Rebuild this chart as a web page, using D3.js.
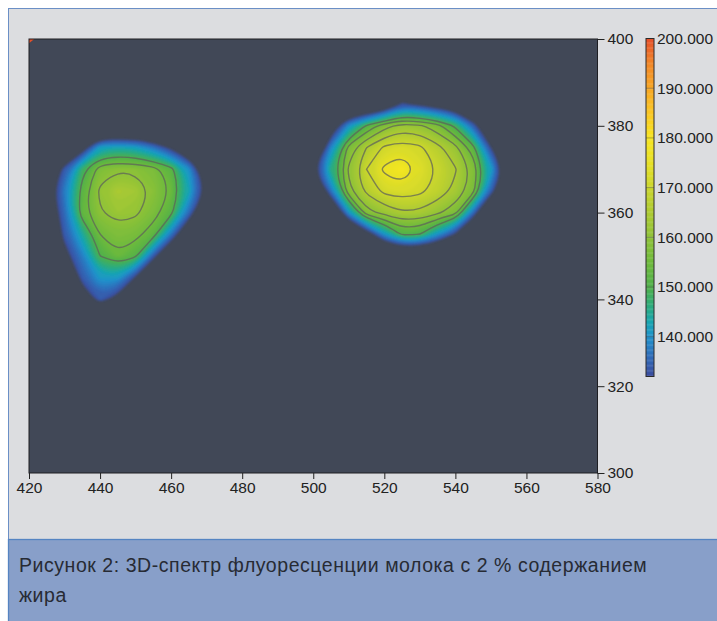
<!DOCTYPE html>
<html>
<head>
  <meta charset="utf-8">
  <script src="https://d3js.org/d3.v7.min.js"></script>
  <style>
    body { margin: 0; background: #fff; }
    #chart { width: 717px; height: 621px; }
    .axis text { font-family: "Liberation Sans", Arial, sans-serif; font-size: 15.5px; fill: #222; }
    .axis line { stroke: #222; }
    .axis path { display: none; }
    .caption { font-family: "Liberation Sans", Arial, sans-serif; font-size: 19.5px; letter-spacing: 0.55px; fill: #272b34; }
  </style>
</head>
<body>
  <div id="chart"></div>
  <script>
    /*
    DATA: fluorescence intensity,
    emission (x, nm) by excitation (y, nm), 5 nm grid, rows from top (390) down.
    Values under 132 are not painted (background).
    */
    const emGrid = [420,425,430,435,440,445,450,455,460,465,470,475,480,485,490,495,500,505,510,515,520,525,530,535,540,545,550,555,560];
    const exGrid = [390,385,380,375,370,365,360,355,350,345,340,335];

    const intensity = [
      // 390
      [115,115,115,115,115,115,115,115,115,115,115,115,115,115,115,115,115,115,115,115,115,115,115,115,115,115,115,115,115],
      // 385
      [115,115,115,115,115,115,115,115,115,115,115,115,115,115,115,115,115,115,115,115,120,133,130,126,123,115,115,115,115],
      // 380
      [115,112,112,113,114,114,114,112,112,115,115,115,115,115,115,115,115,125,140,151,158,162,161,157,149,135,122,115,115],
      // 375
      [115,115,120,127,142,143,142,137,130,122,115,115,115,115,115,115,116,139,157,165,171,172.5,171,166.5,161.5,152,132,115,115],
      // 370
      [115,122,134,148,157.5,159.5,159,157,152,140,124,115,115,115,115,118,131,146,160.8,170,176,179,173.3,169.8,165.4,158.6,142,126,115],
      // 365
      [115,127,138,152,161,164.5,163,159,154.5,143,130,115,115,115,115,115,117,137,158.7,166.2,171.5,172.5,171.3,167.9,163.7,156.9,135,118,115],
      // 360
      [115,124,136,153,159.5,162,161,157,151.5,136,120,115,115,115,115,115,115,118,140,158.2,161.7,164.5,164,161,157,136,116,115,115],
      // 355
      [115,119,134,144,155,157.5,156.5,152.5,137,122,115,115,115,115,115,115,115,115,115,126,140,151,150,140,131,118,115,115,115],
      // 350
      [115,118,129,138,150,154.5,151,134,120,115,115,115,115,115,115,115,115,115,115,115,115,115,115,115,115,115,115,115,115],
      // 345
      [115,115,121,134,141,141,131,118,115,115,115,115,115,115,115,115,115,115,115,115,115,115,115,115,115,115,115,115,115],
      // 340
      [115,115,118,127,134,129,115,115,115,115,115,115,115,115,115,115,115,115,115,115,115,115,115,115,115,115,115,115,115],
      // 335
      [115,115,115,115,115,115,115,115,115,115,115,115,115,115,115,115,115,115,115,115,115,115,115,115,115,115,115,115,115]
    ];

    // small spike in the top-left corner of the map
    const cornerEm = [420, 421.5, 420];
    const cornerEx = [400, 400, 399];
    const cornerValue = 200;

    const xTicks = [420,440,460,480,500,520,540,560,580];
    const yTicks = [300,320,340,360,380,400];
    const lineLevels = [150,155,160,165,170,175];

    // colour bar
    const cbTicks = [140,150,160,170,180,190,200];
    const cbValues = [132,136,140,143,146,150,155,160,165,170,175,180,185,190,195,200];
    const cbColors = ["#3b4a9c","#2f6ab8","#1f92cc","#17a5b0","#2aab80","#4fb04a","#6fba3c","#8fc238","#aecb32","#cbd62c","#e8e126","#f8e620","#fbc722","#f8a724","#f28626","#e6502a"];

    const captionLines = [
      "Рисунок 2: 3D-спектр флуоресценции молока с 2 % содержанием",
      "жира"
    ];

    /*
    SVG
    */
    const width = 717, height = 621;
    const plot = {left: 29, right: 597.5, top: 39, bottom: 473};
    const svg = d3.select("#chart").append("svg")
      .attr("width", width)
      .attr("height", height);

    const defs = svg.append("defs");
    defs.append("filter").attr("id", "soft")
      .attr("x", "-10%").attr("y", "-10%").attr("width", "120%").attr("height", "120%")
      .append("feGaussianBlur").attr("stdDeviation", 1);

    // panel + caption box
    svg.append("rect")
      .attr("x", 8.5).attr("y", 8.5)
      .attr("width", width).attr("height", height)
      .attr("fill", "#dcdde0")
      .attr("stroke", "#6b8fc6");

    svg.append("rect")
      .attr("x", 8.5).attr("y", 539.5)
      .attr("width", width).attr("height", height)
      .attr("fill", "#889fc9")
      .attr("stroke", "#5584c2")
      .attr("stroke-width", 1.3);

    /*
    SCALES
    */
    const x = d3.scaleLinear().domain([420, 580]).range([plot.left, plot.right]);
    const y = d3.scaleLinear().domain([300, 400]).range([plot.bottom, plot.top]);
    const color = d3.scaleLinear().domain(cbValues).range(cbColors).clamp(true);

    const nx = emGrid.length, ny = exGrid.length;
    // d3.contours puts sample i at grid coordinate i + 0.5
    const gx = d3.scaleLinear().domain([0.5, nx - 0.5]).range([emGrid[0], emGrid[nx - 1]]);
    const gy = d3.scaleLinear().domain([0.5, ny - 0.5]).range([exGrid[0], exGrid[ny - 1]]);

    defs.append("clipPath").attr("id", "plotClip")
      .append("rect")
      .attr("x", plot.left).attr("y", plot.top)
      .attr("width", plot.right - plot.left).attr("height", plot.bottom - plot.top);

    const map = svg.append("g").attr("clip-path", "url(#plotClip)");

    map.append("rect")
      .attr("x", plot.left).attr("y", plot.top)
      .attr("width", plot.right - plot.left).attr("height", plot.bottom - plot.top)
      .attr("fill", "#414857");

    /*
    CONTOURS
    */
    const flat = intensity.flat();
    const contours = d3.contours().size([nx, ny]);

    const ringLine = d3.line()
      .x(function(p) { return x(gx(p[0])); })
      .y(function(p) { return y(gy(p[1])); })
      .curve(d3.curveBasisClosed);

    function shapePath(geom) {
      let d = "";
      geom.coordinates.forEach(function(poly) {
        poly.forEach(function(ring) {
          d += ringLine(ring.slice(0, -1));
        });
      });
      return d;
    }

    const bandLevels = d3.range(132, 180, 1);
    map.append("g").attr("filter", "url(#soft)")
      .selectAll("path")
      .data(contours.thresholds(bandLevels)(flat))
      .enter().append("path")
        .attr("d", shapePath)
        .attr("fill", function(d) { return color(d.value + 0.5); })
        .attr("fill-rule", "evenodd");

    map.append("g")
      .selectAll("path")
      .data(contours.thresholds(lineLevels)(flat))
      .enter().append("path")
        .attr("d", shapePath)
        .attr("fill", "none")
        .attr("stroke", "#5d5f5c")
        .attr("stroke-opacity", 0.72)
        .attr("stroke-width", 1.4);

    map.append("path")
      .attr("d", d3.line()(cornerEm.map(function(e, i) { return [x(e), y(cornerEx[i])]; })) + "Z")
      .attr("fill", color(cornerValue));

    // frame
    svg.append("rect")
      .attr("x", plot.left).attr("y", plot.top)
      .attr("width", plot.right - plot.left).attr("height", plot.bottom - plot.top)
      .attr("fill", "none")
      .attr("stroke", "#1e1e22");

    /*
    AXES
    */
    svg.append("g")
      .attr("class", "axis")
      .attr("transform", `translate(0, ${plot.bottom})`)
      .call(d3.axisBottom(x).tickValues(xTicks).tickSize(6).tickPadding(3));

    svg.append("g")
      .attr("class", "axis")
      .attr("transform", `translate(${plot.right}, 0)`)
      .call(d3.axisRight(y).tickValues(yTicks).tickSize(7).tickPadding(3));

    /*
    COLOUR BAR
    */
    const cb = d3.scaleLinear().domain([132, 200]).range([376.5, 38.5]);
    const cbX = 646, cbW = 8;
    const cbSteps = d3.range(132, 200, 0.25);
    svg.append("g").selectAll("rect")
      .data(cbSteps)
      .enter().append("rect")
        .attr("x", cbX)
        .attr("y", function(d) { return cb(d + 0.25); })
        .attr("width", cbW)
        .attr("height", function(d) { return cb(d) - cb(d + 0.25) + 0.3; })
        .attr("fill", function(d) { return color(d + 0.125); });

    svg.append("g").selectAll("line")
      .data(cbTicks.slice(0, -1))
      .enter().append("line")
        .attr("x1", cbX).attr("x2", cbX + cbW)
        .attr("y1", function(d) { return cb(d); })
        .attr("y2", function(d) { return cb(d); })
        .attr("stroke", "#555")
        .attr("stroke-opacity", 0.45);

    svg.append("rect")
      .attr("x", cbX).attr("y", cb(200))
      .attr("width", cbW).attr("height", cb(132) - cb(200))
      .attr("fill", "none")
      .attr("stroke", "#2a2a2a");

    svg.append("g").attr("class", "axis").selectAll("text")
      .data(cbTicks)
      .enter().append("text")
        .attr("x", cbX + cbW + 3)
        .attr("y", function(d) { return cb(d); })
        .attr("dy", "0.35em")
        .text(d3.format(".3f"));

    /*
    CAPTION
    */
    svg.selectAll("text.caption")
      .data(captionLines)
      .enter().append("text")
        .attr("class", "caption")
        .attr("x", 19)
        .attr("y", function(d, i) { return 572 + i * 30; })
        .text(function(d) { return d; });
  </script>
</body>
</html>
